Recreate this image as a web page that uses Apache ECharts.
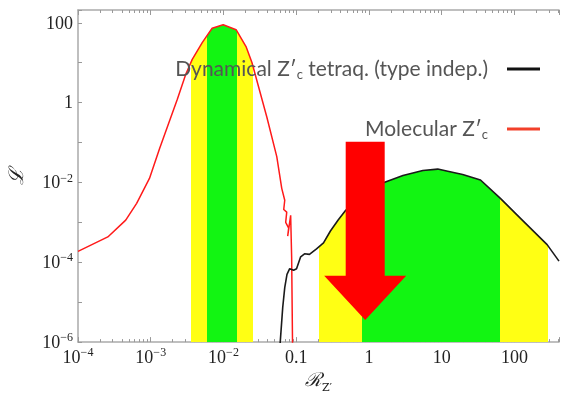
<!DOCTYPE html>
<html><head><meta charset="utf-8">
<script src="https://cdn.jsdelivr.net/npm/echarts@6/dist/echarts.min.js"></script>
<style>html,body{margin:0;padding:0;background:#fff}#c{width:562px;height:399px}</style>
</head><body><div id="c"></div>
<script>
// ---- data (R_Z' vs likelihood L) ----
const molR = [1.0e-4, 2.57e-4, 4.53e-4, 6.4e-4, 9.6e-4, 1.32e-3, 1.81e-3, 2.32e-3, 2.99e-3, 3.72e-3, 5.1e-3, 6.98e-3, 9.9e-3, 1.49e-2, 2.04e-2, 2.46e-2, 3.94e-2, 5.40e-2, 6.32e-2, 6.95e-2, 6.73e-2, 7.4e-2, 7.16e-2, 7.87e-2, 7.63e-2, 8.38e-2, 8.65e-2, 8.93e-2];
const molL = [1.88e-4, 4.31e-4, 1.14e-3, 3.0e-3, 1.26e-2, 7.0e-2, 0.347, 1.22, 4.8, 12.1, 31.8, 73, 89, 67, 25.4, 10.1, 0.436, 4.43e-2, 7.1e-3, 3.57e-3, 2.1e-3, 1.8e-3, 1.0e-3, 7.2e-4, 4.5e-4, 1.5e-3, 1.3e-4, 4.3e-7];
const dynR = [5.93e-2, 6.52e-2, 6.95e-2, 7.46e-2, 8.13e-2, 9.2e-2, 0.101, 0.115, 0.130, 0.152, 0.190, 0.237, 0.295, 0.379, 0.473, 0.859, 1.61, 2.93, 5.50, 8.81, 12.1, 19.4, 34.1, 64.0, 120, 281, 409];
const dynL = [6.7e-7, 7.4e-6, 2.32e-5, 4.98e-5, 6.9e-5, 6.3e-5, 6.9e-5, 1.37e-4, 1.63e-4, 1.58e-4, 2.16e-4, 3.05e-4, 6.07e-4, 1.16e-3, 1.96e-3, 4.75e-3, 1.0e-2, 1.49e-2, 1.99e-2, 2.16e-2, 1.91e-2, 1.58e-2, 1.15e-2, 4.0e-3, 1.28e-3, 2.77e-4, 1.07e-4];
// confidence bands (R ranges)
const molYellow = [0.00359, 0.0252];
const molGreen = [0.00587, 0.01556];
const dynYellow = [0.207, 287];
const dynGreen = [0.79, 62.6];
// arrow: R position, L of shaft top, head top, tip
const arrowR = [0.887];
const arrowL = [0.105, 4.6e-5, 3.6e-6];
// ticks
const xTickText = ['10^−4', '10^−3', '10^−2', '0.1', '1', '10', '100'];
const xTickExp = [-4, -3, -2, -1, 0, 1, 2];
const yTickText = ['10^−6', '10^−4', '10^−2', '1', '100'];
const yTickExp = [-6, -4, -2, 0, 2];
const seriesNames = ['Dynamical Z′c tetraq. (type indep.)', 'Molecular Z′c'];

const L10 = Math.log10;
const xMin = -4, xMax = 2.612, yMin = -6, yMax = 2.32;
const toPairs = (xs, ys) => xs.map((x, i) => [L10(x), L10(ys[i])]);
const molData = toPairs(molR, molL);
const dynData = toPairs(dynR, dynL);

const minorX = [];
for (let e = -4; e <= 2; e++) for (let k = 2; k <= 9; k++) { const v = e + L10(k); if (v <= xMax) minorX.push(v); }

function richLabel(t) {
  const p = t.split('^');
  return p.length > 1 ? '{b|' + p[0] + '}{s|' + p[1] + '}' : '{b|' + t + '}';
}
const tickRich = {
  b: { fontFamily: 'Liberation Serif', fontSize: 18, lineHeight: 20, verticalAlign: 'bottom', color: '#222' },
  s: { fontFamily: 'Liberation Serif', fontSize: 12, lineHeight: 10, verticalAlign: 'top', color: '#222' }
};
function fmt(exps, texts) {
  return v => { const i = exps.findIndex(e => Math.abs(e - v) < 1e-6); return i < 0 ? '' : richLabel(texts[i]); };
}

const AX = '#aaa';
const baseX = { type: 'value', min: xMin, max: xMax, splitLine: { show: false } };
const lineX = { onZero: false, lineStyle: { color: AX, width: 1.5 } };
const xAxis = [
  Object.assign({}, baseX, { position: 'bottom', interval: 1,
    axisLine: lineX,
    axisTick: { inside: true, length: 5, lineStyle: { color: '#999' } },
    axisLabel: { margin: 5, formatter: fmt(xTickExp, xTickText), rich: tickRich },
    name: '{r|ℛ}{s|Z′}', nameLocation: 'middle', nameGap: 28,
    nameTextStyle: { rich: {
      r: { fontFamily: 'DejaVu Serif', fontStyle: 'italic', fontSize: 19, color: '#222', lineHeight: 22, verticalAlign: 'top' },
      s: { fontFamily: 'DejaVu Serif', fontSize: 11, color: '#222', lineHeight: 16, verticalAlign: 'bottom' } } } }),
  Object.assign({}, baseX, { position: 'bottom', axisLine: { show: false, onZero: false },
    axisTick: { inside: true, length: 3, customValues: minorX, lineStyle: { color: '#999' } },
    axisLabel: { show: false } }),
  Object.assign({}, baseX, { position: 'top', interval: 1,
    axisLine: lineX,
    axisTick: { inside: true, length: 5, lineStyle: { color: '#999' } },
    axisLabel: { show: false } }),
  Object.assign({}, baseX, { position: 'top', axisLine: { show: false, onZero: false },
    axisTick: { inside: true, length: 3, customValues: minorX, lineStyle: { color: '#999' } },
    axisLabel: { show: false } })
];
const yAxis = [{
  type: 'value', min: yMin, max: yMax, interval: 1, splitLine: { show: false },
  axisLine: { show: true, onZero: false, lineStyle: { color: AX, width: 1.5 } },
  axisTick: { show: true, inside: true, length: 4, lineStyle: { color: '#999' } },
  axisLabel: { margin: 5, formatter: fmt(yTickExp, yTickText), rich: tickRich },
  name: 'ℒ', nameLocation: 'middle', nameGap: 50, nameRotate: 90,
  nameTextStyle: { fontFamily: 'DejaVu Serif', fontStyle: 'italic', fontSize: 20, color: '#222' }
}];

const YEL = '#ffff14', GRN = '#12f512', TR = 'rgba(0,0,0,0)';
function bandPieces(yr, gr) {
  return [
    { gte: -10, lt: L10(yr[0]), color: TR },
    { gte: L10(yr[0]), lt: L10(gr[0]), color: YEL },
    { gte: L10(gr[0]), lt: L10(gr[1]), color: GRN },
    { gte: L10(gr[1]), lt: L10(yr[1]), color: YEL },
    { gte: L10(yr[1]), lte: 10, color: TR }
  ];
}

const series = [
  { name: 'molBand', type: 'line', data: molData, smooth: false, showSymbol: false, z: 1,
    lineStyle: { width: 0 }, areaStyle: { origin: 'start', opacity: 1 }, silent: true },
  { name: 'dynBand', type: 'line', data: dynData, smooth: false, showSymbol: false, z: 1,
    lineStyle: { width: 0 }, areaStyle: { origin: 'start', opacity: 1 }, silent: true },
  { name: seriesNames[1], type: 'line', data: molData, smooth: false, showSymbol: false, z: 3,
    color: '#ff1a1a', lineStyle: { color: '#ff1a1a', width: 1.5 } },
  { name: seriesNames[0], type: 'line', data: dynData, smooth: false, showSymbol: false, z: 3,
    color: '#111', lineStyle: { color: '#1a1a1a', width: 1.6 } },
  { name: 'arrow', type: 'custom', z: 5, clip: false,
    data: [[L10(arrowR[0]), L10(arrowL[0]), L10(arrowL[1]), L10(arrowL[2])]],
    encode: { x: 0, y: [1, 2, 3] },
    renderItem: (params, api) => {
      const top = api.coord([api.value(0), api.value(1)]);
      const head = api.coord([api.value(0), api.value(2)]);
      const tip = api.coord([api.value(0), api.value(3)]);
      const sw = 19.5, hw = 41, cx = top[0];
      return { type: 'polygon', shape: { points: [
        [cx - sw, top[1]], [cx + sw, top[1]], [cx + sw, head[1]], [cx + hw, head[1]],
        [tip[0], tip[1]], [cx - hw, head[1]], [cx - sw, head[1]] ] },
        style: { fill: '#ff0000' } };
    } }
];

const legendText = { fontFamily: 'Lato', fontSize: 21, color: '#555', lineHeight: 24,
  rich: { s: { fontFamily: 'Lato', fontSize: 13, color: '#555', lineHeight: 14, verticalAlign: 'bottom' },
          g: { width: 14 } } };
const legendFmt = n => n.replace('Z′c', 'Z′{s|c}') + '{g|}';
const option = {
  animation: false,
  grid: { left: 78, top: 10, right: 0, bottom: 54, containLabel: false },
  xAxis, yAxis,
  visualMap: [
    { type: 'piecewise', show: false, dimension: 0, seriesIndex: 0, pieces: bandPieces(molYellow, molGreen), outOfRange: { color: TR } },
    { type: 'piecewise', show: false, dimension: 0, seriesIndex: 1, pieces: bandPieces(dynYellow, dynGreen), outOfRange: { color: TR } }
  ],
  legend: [
    { data: [{ name: seriesNames[0], itemStyle: { color: '#111' } }], right: 22, top: 57, padding: 0, align: 'right',
      icon: 'rect', itemWidth: 33, itemHeight: 3, formatter: legendFmt, textStyle: legendText, selectedMode: false },
    { data: [{ name: seriesNames[1], itemStyle: { color: '#f2402a' } }], right: 22, top: 117, padding: 0, align: 'right',
      icon: 'rect', itemWidth: 33, itemHeight: 3, formatter: legendFmt, textStyle: legendText, selectedMode: false }
  ],
  series
};
const chart = echarts.init(document.getElementById('c'), null, { renderer: 'canvas' });
chart.setOption(option);
</script></body></html>
